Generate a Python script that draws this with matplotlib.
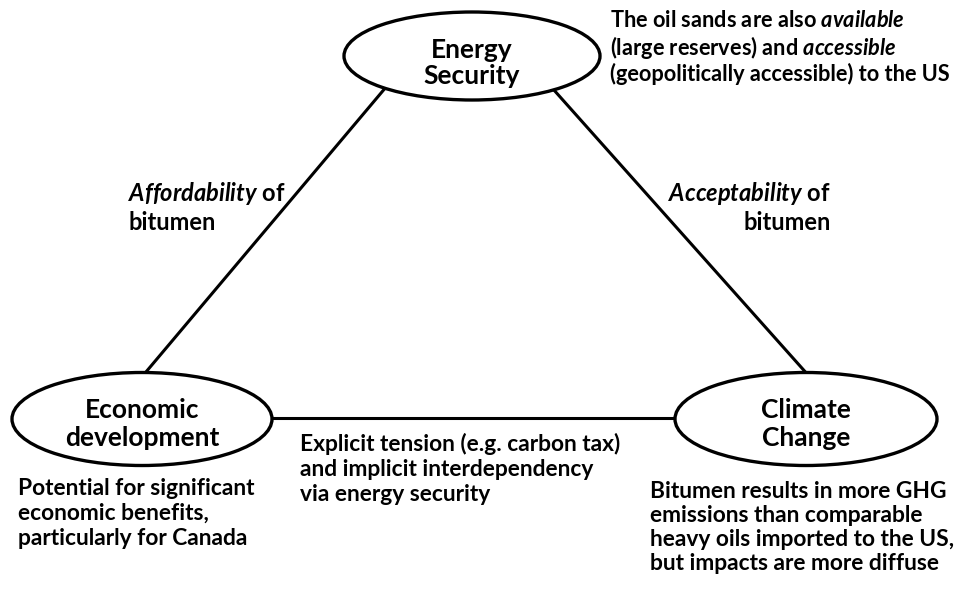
import matplotlib
matplotlib.use("Agg")
import matplotlib.pyplot as plt
from matplotlib.patches import Ellipse

plt.rcParams['font.family'] = ['Lato', 'DejaVu Sans']
plt.rcParams['mathtext.fontset'] = 'custom'
plt.rcParams['mathtext.rm'] = 'Lato:bold'
plt.rcParams['mathtext.it'] = 'Lato:italic:bold'
plt.rcParams['mathtext.bf'] = 'Lato:bold'

# Diagram content
node_labels = ["Energy\nSecurity", "Economic\ndevelopment", "Climate\nChange"]

edge_labels = [r"$\mathit{Affordability}$ of" + "\nbitumen",
               r"$\mathit{Acceptability}$ of" + "\nbitumen",
               "Explicit tension (e.g. carbon tax)\nand implicit interdependency\nvia energy security"]

notes = [r"The oil sands are also $\mathit{available}$" + "\n"
         + r"(large reserves) and $\mathit{accessible}$" + "\n"
         + "(geopolitically accessible) to the US",
         "Potential for significant\neconomic benefits,\nparticularly for Canada",
         "Bitumen results in more GHG\nemissions than comparable\nheavy oils imported to the US,\nbut impacts are more diffuse"]

# layout (pixel space, y downwards)
node_pos = [(472, 56), (142, 419), (806, 419)]
node_size = [(256, 88), (260, 93), (262, 93)]
node_text_shift = [7, 5, 5]
edge_ends = [((392, 80), (135, 385)),
             ((545, 80), (817, 385)),
             ((250, 418), (700, 418))]

W, H = 978, 594
fig = plt.figure(figsize=(W / 100, H / 100), dpi=100)
ax = fig.add_axes([0, 0, 1, 1])
ax.set_xlim(0, W)
ax.set_ylim(H, 0)
ax.axis("off")

for (p0, p1) in edge_ends:
    ax.plot([p0[0], p1[0]], [p0[1], p1[1]], color="black", lw=2.2, zorder=1)

for lab, (cx, cy), (w, h), dy in zip(node_labels, node_pos, node_size, node_text_shift):
    ax.add_patch(Ellipse((cx, cy), w, h, facecolor="white", edgecolor="black", lw=2.4, zorder=2))
    ax.text(cx, cy + dy, lab, ha="center", va="center", fontsize=19, fontweight="bold",
            linespacing=1.15, zorder=3)

def block(x, y, s, size, ls=1.2, **kw):
    ax.text(x, y, s, va="top", fontsize=size, fontweight="bold", linespacing=ls, **kw)

block(128, 180, edge_labels[0], 17, ls=1.22, ha="left")
block(831, 180, edge_labels[1], 17, ls=1.22, ha="right", multialignment="right")
block(300, 433, edge_labels[2], 16.4, ls=1.22, ha="left")

block(610, 10, notes[0], 15.7, ls=1.13, ha="left")
block(18, 478, notes[1], 16.4, ls=1.24, ha="left")
block(650, 481, notes[2], 16.4, ls=1.17, ha="left")

fig.savefig("out.png", dpi=100)
